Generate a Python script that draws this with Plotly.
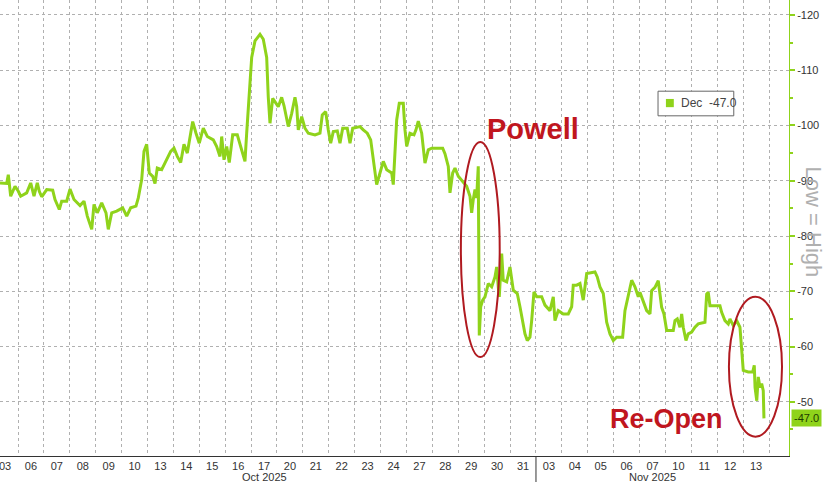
import plotly.graph_objects as go

# trading-day index (0 = 03 Oct 2025, 29 = 13 Nov 2025), fractional = intraday
t = [0.305, 0.564, 0.625, 0.718, 0.884, 1.012, 1.104, 1.336, 1.490, 1.618, 1.745, 1.822, 1.915,
     2.108, 2.340, 2.429, 2.595, 2.687, 2.880, 3.008, 3.162, 3.394, 3.548, 3.676, 3.846, 3.934,
     4.062, 4.232, 4.398, 4.486, 4.618, 4.811, 5.042, 5.197, 5.351, 5.556, 5.645, 5.776, 5.865,
     5.969, 6.069, 6.201, 6.290, 6.378, 6.548, 6.741, 6.896, 7.023, 7.151, 7.282, 7.409, 7.537,
     7.668, 7.745, 7.873, 8.000, 8.154, 8.309, 8.541, 8.672, 8.799, 8.865, 8.954, 9.058, 9.158,
     9.290, 9.467, 9.598, 9.764, 9.830, 9.919, 10.023, 10.151, 10.344, 10.471, 10.602, 10.664,
     10.730, 10.834, 11.050, 11.181, 11.270, 11.436, 11.568, 11.695, 11.761, 11.822, 11.954,
     12.081, 12.209, 12.467, 12.660, 12.749, 12.880, 12.981, 13.073, 13.174, 13.328, 13.432,
     13.537, 13.714, 13.819, 13.923, 14.205, 14.332, 14.486, 14.618, 14.718, 14.849, 14.977,
     15.104, 15.236, 15.429, 15.490, 15.556, 15.622, 15.722, 15.876, 15.942, 16.008, 16.135,
     16.290, 16.367, 16.456, 16.587, 16.714, 16.842, 16.973, 17.398, 17.486, 17.614, 17.680,
     17.784, 17.873, 18.000, 18.170, 18.324, 18.452, 18.517, 18.579, 18.645, 18.710, 18.772,
     18.811, 18.865, 18.942, 19.031, 19.158, 19.290, 19.417, 19.483, 19.544, 19.583, 19.676,
     19.737, 19.869, 19.996, 20.124, 20.278, 20.382, 20.486, 20.575, 20.664, 20.768, 20.834,
     20.923, 21.027, 21.220, 21.347, 21.541, 21.668, 21.734, 21.861, 22.054, 22.247, 22.378,
     22.440, 22.571, 22.699, 22.826, 22.958, 23.278, 23.367, 23.471, 23.599, 23.730, 23.857,
     23.985, 24.116, 24.347, 24.436, 24.564, 24.695, 24.822, 24.950, 25.015, 25.143, 25.274,
     25.402, 25.467, 25.595, 25.722, 25.788, 25.853, 25.942, 26.046, 26.301, 26.367, 26.456,
     26.560, 26.625, 26.687, 26.792, 26.880, 27.012, 27.139, 27.266, 27.525, 27.591, 27.653,
     27.718, 28.104, 28.170, 28.297, 28.425, 28.490, 28.618, 28.749, 28.876, 28.942, 29.004,
     29.197, 29.367, 29.429, 29.459, 29.525, 29.583, 29.649, 29.714, 29.776, 29.803]

dec = [-89.6, -89.5, -91.1, -87.2, -89.0, -88.1, -87.2, -87.8, -89.6, -87.2, -89.6, -88.1, -87.1,
       -88.4, -88.3, -86.6, -84.8, -86.3, -86.3, -88.5, -86.6, -85.5, -86.3, -83.6, -81.2, -85.7,
       -84.2, -86.0, -84.2, -81.2, -84.2, -84.5, -85.1, -83.6, -85.1, -85.4, -86.9, -90.2, -95.3,
       -96.6, -91.4, -90.8, -89.5, -92.3, -92.0, -93.8, -95.3, -95.9, -94.4, -93.3, -96.6, -95.0,
       -98.3, -100.7, -98.6, -96.8, -99.5, -98.0, -97.4, -96.2, -94.4, -98.0, -93.8, -96.2, -93.3,
       -98.3, -98.3, -96.2, -93.5, -98.6, -105.7, -112.3, -115.3, -116.5, -115.6, -112.3, -105.1,
       -100.4, -104.9, -103.4, -105.1, -103.6, -99.8, -102.2, -105.1, -103.4, -99.2, -101.6,
       -99.5, -98.6, -98.3, -98.6, -101.9, -102.5, -99.2, -96.8, -98.9, -99.0, -96.8,
       -99.5, -99.5, -96.8, -99.5, -99.8, -99.2, -98.6, -97.4, -93.8, -89.3, -91.4,
       -93.5, -92.0, -91.4, -89.3, -96.2, -101.0, -104.0, -104.0, -99.2, -96.2, -98.6,
       -98.3, -99.2, -100.8, -98.6, -93.2, -95.6, -95.9, -95.9, -94.9, -92.6, -87.8,
       -91.4, -92.3, -90.8, -89.9, -89.0, -87.2, -84.2, -86.6, -88.4, -86.9, -92.6,
       -62.0, -67.2, -68.4, -69.0, -71.4, -70.8, -72.6, -74.4, -70.8, -69.0, -76.8,
       -72.0, -71.7, -74.4, -70.2, -69.6, -67.2, -64.7, -62.3, -61.1, -61.7, -64.7,
       -69.9, -69.0, -69.0, -67.5, -66.5, -69.0, -64.7, -66.5, -65.9, -65.9, -67.2,
       -71.1, -71.1, -71.4, -68.4, -73.2, -73.5, -72.6, -70.8, -69.6, -64.4, -62.3,
       -61.1, -61.7, -61.7, -66.5, -69.0, -72.0, -70.8, -69.0, -69.8, -68.3, -66.5,
       -65.9, -70.1, -70.7, -71.9, -69.5, -67.1, -65.9, -62.9, -62.9, -64.7, -65.0,
       -63.5, -65.9, -63.5, -61.1, -62.3, -62.6, -63.5, -64.1, -64.4, -69.5, -69.8,
       -67.4, -67.4, -66.2, -64.7, -64.1, -65.0, -63.8, -64.7, -63.5, -59.9, -55.7,
       -55.4, -55.4, -56.6, -52.6, -50.2, -54.5, -52.6, -53.3, -52.0, -47.0]

day_labels = ["03", "06", "07", "08", "09", "10", "13", "14", "15", "16", "17", "20", "21", "22",
              "23", "24", "27", "28", "29", "30", "31",
              "03", "04", "05", "06", "07", "10", "11", "12", "13"]
month_labels = ["Oct 2025", "Nov 2025"]
month_spans = [(0, 21), (21, 30)]
y_ticks = [-120, -110, -100, -90, -80, -70, -60, -50]
series_name = "Dec"

GREEN = "#8fd31b"
RED = "#c0161e"
FONT = "Liberation Sans, Arial, sans-serif"

fig = go.Figure()
fig.add_trace(go.Scatter(x=t, y=dec, mode="lines", line=dict(color=GREEN, width=3),
                         name=series_name, showlegend=False, hoverinfo="skip"))

fig.update_layout(
    width=828, height=482,
    margin=dict(l=0, r=39, t=0, b=26),
    paper_bgcolor="white", plot_bgcolor="white",
    font=dict(family=FONT, size=11, color="#333"),
    showlegend=False,
)

fig.update_xaxes(
    range=[0.305, 30.77],
    tickmode="array", tickvals=[i + 0.5 for i in range(len(day_labels))], ticktext=day_labels,
    showgrid=False, ticks="", zeroline=False, ticklabeloverflow="allow",
    showline=True, linecolor="#333", linewidth=1,
    tickfont=dict(size=11, color="#333"),
    minor=dict(tickmode="linear", tick0=0, dtick=1, showgrid=True,
               gridcolor="#b0b0b0", griddash="dot", gridwidth=1, ticks=""),
)
fig.update_yaxes(
    range=[-40.2, -122.7], side="right",
    tickmode="array", tickvals=y_ticks, ticktext=[str(v) for v in y_ticks],
    showgrid=True, gridcolor="#b0b0b0", griddash="dot", gridwidth=1, zeroline=False,
    showline=True, linecolor=GREEN, linewidth=1, ticklabeloverflow="allow",
    ticks="outside", ticklen=5, tickwidth=2, tickcolor=GREEN,
    tickfont=dict(size=11, color="#333"),
    minor=dict(tickmode="linear", tick0=0, dtick=5, ticks="outside", ticklen=3,
               tickcolor=GREEN, showgrid=False),
)

annotations = []
for lab, (a, b) in zip(month_labels, month_spans):
    annotations.append(dict(x=(a + b) / 2, y=-0.046, xref="x", yref="paper", text=lab,
                            showarrow=False, font=dict(size=11, color="#333"),
                            xanchor="center", yanchor="middle"))
annotations += [
    dict(x=0.6755, y=0.717, xref="paper", yref="paper", text="<b>Powell</b>", showarrow=False,
         xanchor="center", yanchor="middle", font=dict(size=29, color=RED, family=FONT)),
    dict(x=0.845, y=0.081, xref="paper", yref="paper", text="<b>Re-Open</b>", showarrow=False,
         xanchor="center", yanchor="middle", font=dict(size=27, color=RED, family=FONT)),
    dict(x=1.031, y=0.513, xref="paper", yref="paper", text="Low = High", showarrow=False,
         xanchor="center", yanchor="middle", textangle=90,
         font=dict(size=22, color="#b0b0b0", family=FONT)),
    dict(x=1.002, y=dec[-1], xref="paper", yref="y", text=f"{dec[-1]:.1f}", showarrow=False,
         xanchor="left", yanchor="middle", bgcolor=GREEN, borderpad=2,
         font=dict(size=11, color="#1d3b00")),
    # legend text
    dict(x=0.861, y=0.774, xref="paper", yref="paper", text=f"{series_name}  {dec[-1]:.1f}",
         showarrow=False, xanchor="left", yanchor="middle",
         font=dict(size=12, color="#444")),
]
fig.update_layout(annotations=annotations)

# legend box and swatch
fig.add_shape(type="rect", xref="paper", yref="paper", x0=0.834, x1=0.930, y0=0.746, y1=0.800,
              line=dict(color="#666", width=1), fillcolor="white", layer="above")
fig.add_shape(type="rect", xref="paper", yref="paper", x0=0.844, x1=0.854, y0=0.765, y1=0.783,
              line=dict(width=0), fillcolor=GREEN, layer="above")

fig.add_shape(type="circle", xref="x", yref="y", x0=18.1, x1=19.6, y0=-97.0, y1=-58.1,
              line=dict(color="#b01a20", width=2))
fig.add_shape(type="circle", xref="x", yref="y", x0=28.45, x1=30.5, y0=-69.0, y1=-43.7,
              line=dict(color="#b01a20", width=2))
fig.add_shape(type="line", xref="x", yref="paper", x0=21, x1=21, y0=0, y1=-0.06,
              line=dict(color="#333", width=1))

fig.write_html("out.html", config={"displayModeBar": False},
               post_script="document.body.style.margin='0';")
